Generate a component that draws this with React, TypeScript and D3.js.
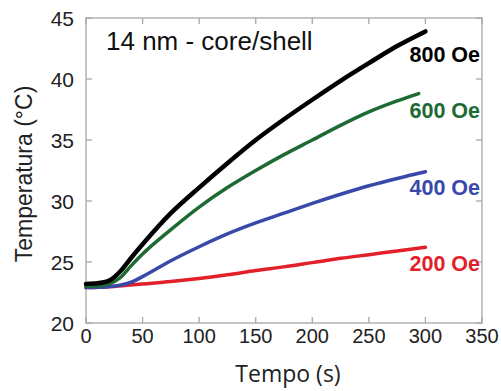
import React from "react";
import * as d3 from "d3";

// time (s) and temperature (°C)
const tBlack = [0, 10, 20, 30, 40, 50, 75, 100, 125, 150, 175, 200, 225, 250, 275, 300];
const black800 = [23.2, 23.25, 23.45, 24.2, 25.35, 26.45, 29.0, 31.1, 33.1, 35.0, 36.7, 38.3, 39.85, 41.3, 42.7, 43.9];

const tGreen = [0, 10, 20, 30, 40, 50, 75, 100, 125, 150, 175, 200, 225, 250, 275, 294];
const green600 = [23.0, 23.05, 23.2, 23.7, 24.7, 25.65, 27.65, 29.5, 31.1, 32.5, 33.8, 35.0, 36.2, 37.3, 38.2, 38.8];

const tBlue = [0, 10, 20, 30, 40, 50, 75, 100, 125, 150, 175, 200, 225, 250, 275, 300];
const blue400 = [22.9, 22.92, 22.98, 23.1, 23.35, 23.8, 25.1, 26.25, 27.3, 28.2, 29.0, 29.8, 30.55, 31.25, 31.85, 32.4];

const tRed = [0, 25, 50, 75, 100, 125, 150, 175, 200, 225, 250, 275, 300];
const red200 = [22.9, 23.0, 23.2, 23.4, 23.65, 23.95, 24.3, 24.6, 24.95, 25.3, 25.6, 25.9, 26.2];

const xTicks = [0, 50, 100, 150, 200, 250, 300, 350];
const yTicks = [20, 25, 30, 35, 40, 45];

const series = [
  { name: "200 Oe", t: tRed, v: red200, color: "#e3202a", width: 3.5, labelY: 271 },
  { name: "400 Oe", t: tBlue, v: blue400, color: "#3949aa", width: 3.5, labelY: 195 },
  { name: "600 Oe", t: tGreen, v: green600, color: "#1d6a33", width: 3.5, labelY: 118 },
  { name: "800 Oe", t: tBlack, v: black800, color: "#000000", width: 4.5, labelY: 62 },
];

const W = 501;
const H = 391;
const margin = { top: 18, right: 19, bottom: 68, left: 86 };

export default function App() {
  const x = d3.scaleLinear().domain([0, 350]).range([margin.left, W - margin.right]);
  const y = d3.scaleLinear().domain([20, 45]).range([H - margin.bottom, margin.top]);
  const x0 = x(0), x1 = x(350), y0 = y(20), y1 = y(45);
  const tick = 6;
  const axisColor = "#a6a6a6";

  return (
    <svg
      width={W}
      height={H}
      style={{ position: "absolute", left: 0, top: 0, background: "#fff" }}
      fontFamily="'Liberation Sans', Arial, sans-serif"
    >
      {/* frame */}
      <rect x={x0} y={y1} width={x1 - x0} height={y0 - y1} fill="none" stroke={axisColor} strokeWidth={1.3} />

      {/* x ticks, bottom and top, pointing inward */}
      {xTicks.map((d) => (
        <g key={"x" + d}>
          <line x1={x(d)} x2={x(d)} y1={y0} y2={y0 - tick} stroke={axisColor} strokeWidth={1.3} />
          <line x1={x(d)} x2={x(d)} y1={y1} y2={y1 + tick} stroke={axisColor} strokeWidth={1.3} />
          <text x={x(d)} y={343} textAnchor="middle" fontSize={20} fill="#222">
            {d}
          </text>
        </g>
      ))}

      {/* y ticks, left and right */}
      {yTicks.map((d) => (
        <g key={"y" + d}>
          <line x1={x0} x2={x0 + tick} y1={y(d)} y2={y(d)} stroke={axisColor} strokeWidth={1.3} />
          <line x1={x1} x2={x1 - tick} y1={y(d)} y2={y(d)} stroke={axisColor} strokeWidth={1.3} />
          <text x={74} y={y(d) + 7.5} textAnchor="end" fontSize={21} fill="#222">
            {d}
          </text>
        </g>
      ))}

      {/* curves */}
      {series.map((s) => {
        const line = d3
          .line<number>()
          .x((_, i) => x(s.t[i]))
          .y((d) => y(d))
          .curve(d3.curveMonotoneX);
        return (
          <path
            key={s.name}
            d={line(s.v) ?? ""}
            fill="none"
            stroke={s.color}
            strokeWidth={s.width}
            strokeLinecap="round"
            strokeLinejoin="round"
          />
        );
      })}

      {/* series labels */}
      {series.map((s) => (
        <text
          key={"l" + s.name}
          x={480}
          y={s.labelY}
          textAnchor="end"
          fontSize={21.5}
          fontWeight="bold"
          fill={s.color}
        >
          {s.name}
        </text>
      ))}

      {/* title inside plot */}
      <text x={106} y={50} fontSize={26} fill="#111">
        14 nm - core/shell
      </text>

      {/* axis titles */}
      <text x={288} y={382} textAnchor="middle" fontSize={23} fill="#222" fontFamily="'Open Sans', sans-serif">
        Tempo (s)
      </text>
      <text
        transform={`translate(32,174) rotate(-90)`}
        textAnchor="middle"
        fontSize={23}
        fill="#222"
      >
        Temperatura (°C)
      </text>
    </svg>
  );
}
